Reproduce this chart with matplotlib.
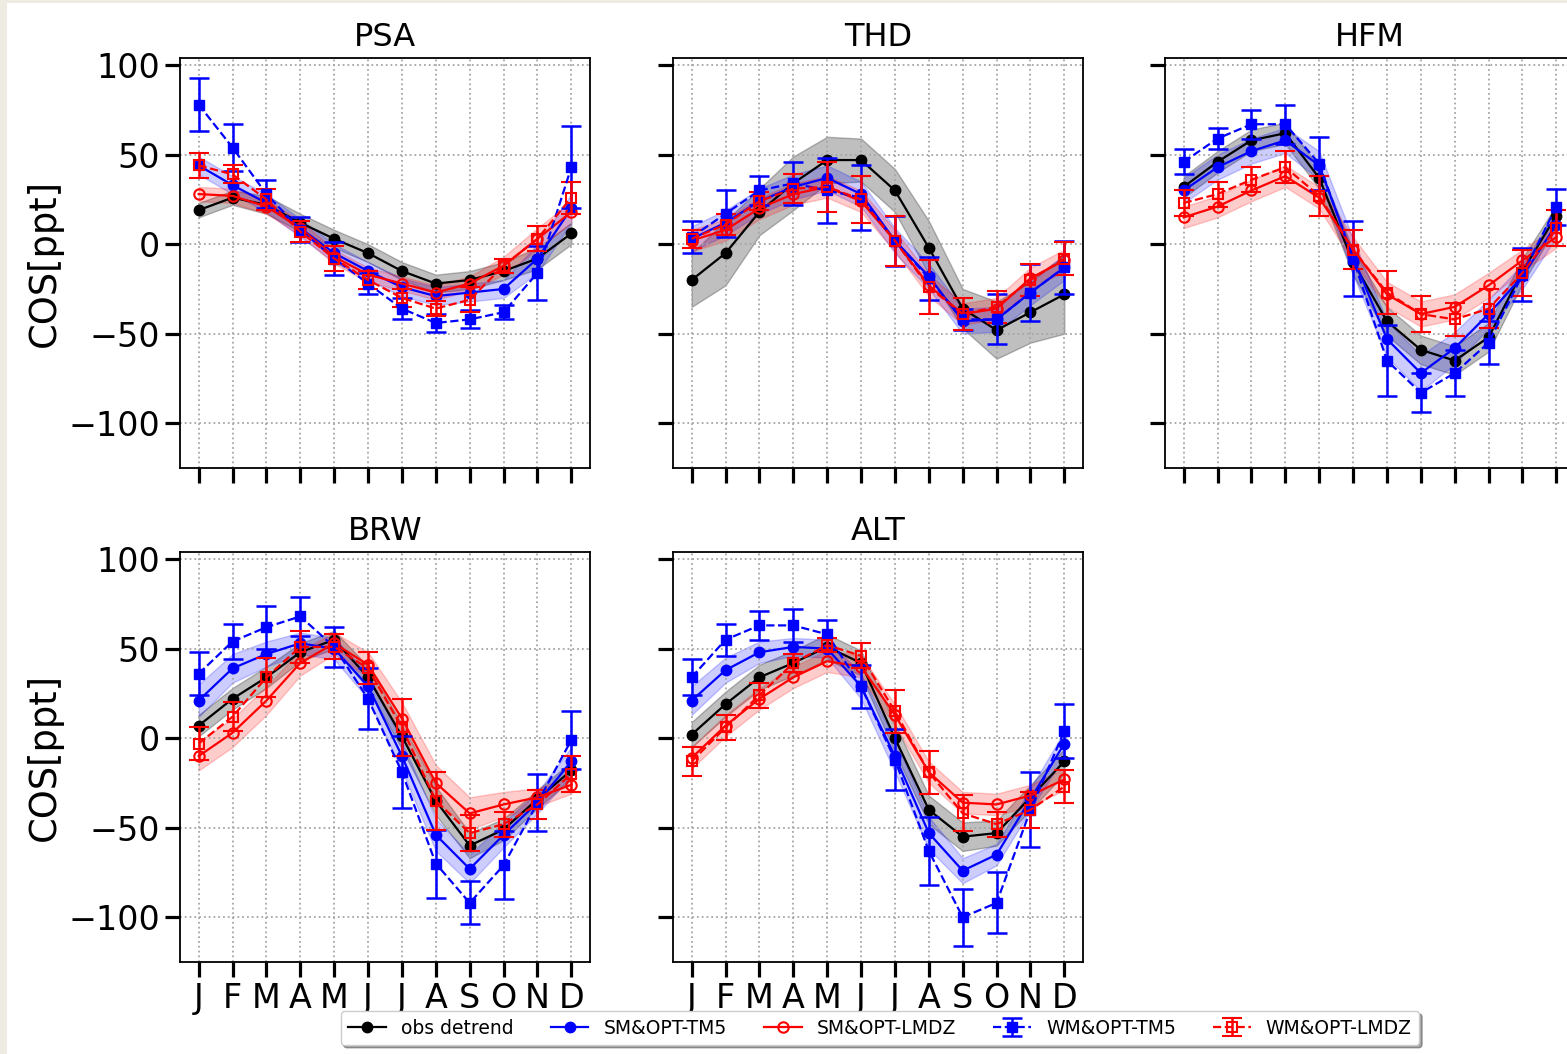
import matplotlib
matplotlib.use('Agg')
import numpy as np
import matplotlib.pyplot as plt
from matplotlib.patches import Rectangle

months = ['J', 'F', 'M', 'A', 'M', 'J', 'J', 'A', 'S', 'O', 'N', 'D']
stations = ['PSA', 'THD', 'HFM', 'BRW', 'ALT']
labels = ['obs detrend', 'SM&OPT-TM5', 'SM&OPT-LMDZ', 'WM&OPT-TM5', 'WM&OPT-LMDZ']

# PSA
psa_obs = [19, 26, 22, 12, 3, -5, -15, -22, -20, -15, -8, 6]
psa_obs_sd = [4, 4, 5, 5, 5, 5, 5, 5, 5, 5, 6, 6]
psa_smt = [44, 33, 23, 9, -5, -15, -24, -29, -27, -25, -8, 20]
psa_smt_sd = [5, 5, 5, 5, 5, 5, 5, 5, 5, 5, 8, 8]
psa_sml = [28, 27, 21, 9, -7, -17, -22, -27, -22, -12, 3, 18]
psa_sml_sd = [4, 4, 4, 4, 4, 4, 4, 4, 4, 5, 6, 6]
psa_wmt = [78, 54, 28, 8, -8, -22, -36, -44, -42, -38, -16, 43]
psa_wmt_err = [15, 13, 8, 7, 9, 6, 6, 5, 5, 4, 15, 23]
psa_wml = [44, 39, 25, 7, -8, -20, -30, -36, -31, -12, 3, 26]
psa_wml_err = [7, 5, 6, 6, 7, 5, 5, 4, 7, 4, 7, 9]

# THD
thd_obs = [-20, -5, 18, 34, 47, 47, 30, -2, -36, -48, -38, -28]
thd_obs_sd = [15, 18, 13, 15, 13, 12, 12, 15, 11, 16, 17, 22]
thd_smt = [3, 12, 24, 32, 37, 28, 2, -18, -43, -42, -27, -13]
thd_smt_sd = [7, 7, 7, 7, 7, 7, 7, 7, 7, 7, 7, 7]
thd_sml = [2, 8, 20, 28, 32, 24, 2, -23, -39, -36, -19, -9]
thd_sml_sd = [6, 6, 6, 6, 6, 6, 6, 6, 6, 6, 6, 6]
thd_wmt = [4, 17, 30, 34, 30, 26, 2, -19, -42, -42, -27, -13]
thd_wmt_err = [9, 13, 8, 12, 18, 18, 14, 12, 6, 14, 16, 15]
thd_wml = [3, 11, 24, 31, 32, 25, 2, -24, -39, -35, -20, -8]
thd_wml_err = [5, 6, 5, 8, 14, 13, 14, 15, 9, 9, 9, 9]

# HFM
hfm_obs = [32, 46, 58, 62, 37, -10, -43, -59, -65, -52, -15, 16]
hfm_obs_sd = [6, 6, 6, 6, 6, 7, 8, 8, 8, 8, 7, 6]
hfm_smt = [30, 43, 52, 58, 44, -7, -53, -72, -58, -39, -18, 11]
hfm_smt_sd = [7, 7, 7, 7, 8, 10, 10, 10, 9, 8, 7, 7]
hfm_sml = [15, 21, 30, 38, 26, -3, -28, -39, -35, -23, -9, 4]
hfm_sml_sd = [6, 6, 6, 6, 6, 7, 7, 7, 7, 7, 6, 6]
hfm_wmt = [46, 59, 67, 67, 45, -8, -65, -83, -72, -55, -17, 21]
hfm_wmt_err = [7, 6, 8, 11, 15, 21, 20, 11, 13, 12, 15, 10]
hfm_wml = [23, 28, 36, 43, 27, -3, -27, -39, -42, -36, -16, 9]
hfm_wml_err = [7, 7, 7, 9, 11, 11, 12, 10, 9, 11, 13, 10]

# BRW
brw_obs = [7, 22, 34, 48, 55, 34, 1, -35, -60, -51, -34, -18]
brw_obs_sd = [6, 6, 6, 5, 5, 6, 7, 8, 7, 6, 5, 5]
brw_smt = [21, 39, 47, 53, 50, 29, -10, -54, -73, -54, -36, -13]
brw_smt_sd = [9, 8, 7, 6, 6, 7, 8, 9, 8, 7, 6, 8]
brw_sml = [-10, 3, 21, 42, 53, 41, 11, -25, -42, -37, -33, -26]
brw_sml_sd = [8, 8, 8, 7, 6, 7, 9, 10, 9, 7, 5, 5]
brw_wmt = [36, 54, 62, 68, 51, 22, -19, -70, -92, -71, -36, -1]
brw_wmt_err = [12, 10, 12, 11, 11, 17, 20, 19, 12, 19, 16, 16]
brw_wml = [-3, 12, 34, 51, 51, 39, 6, -35, -53, -48, -37, -20]
brw_wml_err = [9, 8, 11, 9, 7, 9, 16, 16, 10, 7, 8, 10]

# ALT
alt_obs = [2, 19, 34, 42, 51, 42, 0, -40, -55, -53, -33, -13]
alt_obs_sd = [7, 7, 7, 7, 7, 7, 8, 8, 8, 7, 7, 7]
alt_smt = [21, 38, 48, 51, 50, 29, -10, -53, -74, -65, -34, -3]
alt_smt_sd = [8, 7, 6, 5, 5, 7, 9, 9, 7, 6, 6, 7]
alt_sml = [-11, 7, 22, 34, 43, 40, 13, -19, -36, -37, -32, -23]
alt_sml_sd = [6, 6, 6, 6, 6, 6, 6, 6, 6, 6, 6, 6]
alt_wmt = [34, 55, 63, 63, 58, 29, -12, -63, -100, -92, -40, 4]
alt_wmt_err = [10, 9, 8, 9, 8, 12, 17, 19, 16, 17, 21, 15]
alt_wml = [-13, 6, 24, 42, 52, 46, 15, -19, -42, -48, -40, -27]
alt_wml_err = [8, 7, 7, 5, 4, 7, 12, 12, 10, 7, 10, 9]

data = {
    'PSA': (psa_obs, psa_obs_sd, psa_smt, psa_smt_sd, psa_sml, psa_sml_sd,
            psa_wmt, psa_wmt_err, psa_wml, psa_wml_err),
    'THD': (thd_obs, thd_obs_sd, thd_smt, thd_smt_sd, thd_sml, thd_sml_sd,
            thd_wmt, thd_wmt_err, thd_wml, thd_wml_err),
    'HFM': (hfm_obs, hfm_obs_sd, hfm_smt, hfm_smt_sd, hfm_sml, hfm_sml_sd,
            hfm_wmt, hfm_wmt_err, hfm_wml, hfm_wml_err),
    'BRW': (brw_obs, brw_obs_sd, brw_smt, brw_smt_sd, brw_sml, brw_sml_sd,
            brw_wmt, brw_wmt_err, brw_wml, brw_wml_err),
    'ALT': (alt_obs, alt_obs_sd, alt_smt, alt_smt_sd, alt_sml, alt_sml_sd,
            alt_wmt, alt_wmt_err, alt_wml, alt_wml_err),
}

W, H = 1567, 1054
fig = plt.figure(figsize=(W / 100, H / 100), dpi=100, facecolor='#eeebe3')
fig.add_artist(Rectangle((7 / W, 0), 1, 1 - 3 / H, transform=fig.transFigure,
                         facecolor='white', edgecolor='none', zorder=-10))

# axes corners in pixels (left, top), the third column runs off the right edge
corners = [(180, 58), (673, 58), (1165, 58), (180, 552), (673, 552)]
aw, ah = 410, 410
x = np.arange(12)

handles = None
for i, name in enumerate(stations):
    left, top = corners[i]
    ax = fig.add_axes([left / W, 1 - (top + ah) / H, aw / W, ah / H])
    obs, obs_sd, smt, smt_sd, sml, sml_sd, wmt, wmt_err, wml, wml_err = [np.array(a, float) for a in data[name]]

    ax.fill_between(x, obs - obs_sd, obs + obs_sd, color='k', alpha=0.25)
    ax.fill_between(x, smt - smt_sd, smt + smt_sd, color='b', alpha=0.2)
    ax.fill_between(x, sml - sml_sd, sml + sml_sd, color='r', alpha=0.2)

    h1, = ax.plot(x, obs, 'o-', color='k', ms=7.5, lw=1.6)
    h2, = ax.plot(x, smt, 'o-', color='b', ms=7.5, lw=1.6)
    h3, = ax.plot(x, sml, 'o-', color='r', mfc='none', mew=1.5, ms=7.5, lw=1.6)
    h4 = ax.errorbar(x, wmt, yerr=wmt_err, fmt='s--', color='b', ms=7.5, lw=1.6,
                     elinewidth=1.8, capsize=7, capthick=1.8)
    h5 = ax.errorbar(x, wml, yerr=wml_err, fmt='s--', color='r', mfc='none', mew=1.5,
                     ms=7.5, lw=1.6, elinewidth=1.8, capsize=7, capthick=1.8)
    handles = [h1, h2, h3, h4, h5]

    ax.set_xlim(-0.55, 11.55)
    ax.set_ylim(-125, 104)
    ax.set_yticks([-100, -50, 0, 50, 100])
    ax.set_xticks(x)
    if i >= 3:
        ax.set_xticklabels(months)
    else:
        ax.set_xticklabels([])
    if i in (0, 3):
        ax.set_ylabel('COS[ppt]', fontsize=26.5)
    else:
        ax.set_yticklabels([])
    ax.tick_params(direction='out', length=11, width=2.3, labelsize=24)
    ax.grid(True, ls=':', color='0.65', lw=1.3)
    for sp in ax.spines.values():
        sp.set_linewidth(1.3)
    ax.set_title(name, fontsize=23, pad=9)

fig.legend(handles, labels, loc='center', bbox_to_anchor=(880 / W, 1 - 1028 / H),
           ncol=5, fontsize=13.5, fancybox=True, shadow=True)

fig.savefig('out.png', dpi=100, facecolor=fig.get_facecolor())
